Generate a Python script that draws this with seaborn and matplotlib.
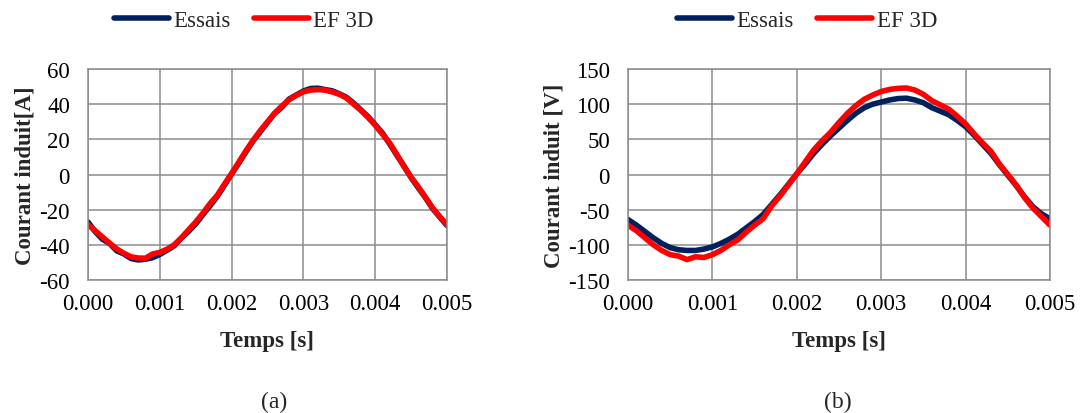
import pandas as pd
import numpy as np
import matplotlib.pyplot as plt
import seaborn as sns

# time axis (s), sampled every 0.1 ms
temps = [0.0000, 0.0001, 0.0002, 0.0003, 0.0004, 0.0005, 0.0006, 0.0007, 0.0008, 0.0009,
         0.0010, 0.0011, 0.0012, 0.0013, 0.0014, 0.0015, 0.0016, 0.0017, 0.0018, 0.0019,
         0.0020, 0.0021, 0.0022, 0.0023, 0.0024, 0.0025, 0.0026, 0.0027, 0.0028, 0.0029,
         0.0030, 0.0031, 0.0032, 0.0033, 0.0034, 0.0035, 0.0036, 0.0037, 0.0038, 0.0039,
         0.0040, 0.0041, 0.0042, 0.0043, 0.0044, 0.0045, 0.0046, 0.0047, 0.0048, 0.0049,
         0.0050]

# (a) induced current [A]
essais_a = [-27.0, -32.5, -36.8, -39.2, -43.4, -45.2, -47.8, -48.6, -48.2, -47.3,
            -45.5, -43.1, -40.6, -36.2, -32.4, -28.1, -22.9, -17.8, -12.5, -6.2,
            0.3, 6.4, 12.9, 19.1, 24.3, 29.6, 34.8, 38.2, 42.9, 45.2,
            47.5, 48.9, 49.1, 48.3, 47.6, 45.9, 43.9, 40.6, 36.8, 32.9,
            28.4, 23.6, 17.5, 11.0, 4.9, -1.8, -7.6, -13.2, -19.4, -24.3,
            -29.0]
ef3d_a = [-28.5, -32.0, -35.5, -39.0, -42.3, -44.8, -46.8, -47.5, -47.6, -45.2,
          -44.3, -42.5, -40.0, -36.0, -31.5, -27.0, -22.0, -16.5, -11.8, -5.5,
          0.6, 7.0, 13.5, 19.5, 25.0, 30.0, 34.9, 39.0, 42.5, 45.0,
          47.0, 48.0, 48.3, 48.0, 47.0, 45.6, 43.5, 40.0, 36.5, 32.5,
          28.0, 23.0, 18.0, 11.5, 4.5, -1.5, -7.0, -13.0, -19.0, -24.0,
          -28.5]

# (b) induced voltage [V]
essais_b = [-64, -72, -81, -90, -98, -104, -107, -108, -108, -106,
            -103, -98, -92, -85, -76, -67, -57, -43, -29, -14,
            1, 15, 30, 43, 55, 66, 77, 87, 95, 100,
            103, 106, 108, 108.5, 106, 102, 95, 90, 85, 77,
            68, 56, 43, 30, 14, -1, -16, -32, -46, -56,
            -63]
ef3d_b = [-72, -80, -90, -100, -108, -114, -116, -121, -117, -118,
          -114, -108, -100, -93, -82, -72, -63, -45, -31, -15,
          1, 18, 35, 48, 60, 74, 87, 98, 107, 113,
          118, 121, 122.5, 123, 120, 114, 105, 99, 93, 83,
          72, 58, 45, 33, 15, 0, -15, -33, -48, -60,
          -72]

xticks = [0.000, 0.001, 0.002, 0.003, 0.004, 0.005]
xticklabels = ['0.000', '0.001', '0.002', '0.003', '0.004', '0.005']

sns.set_style('white')
plt.rcParams['font.family'] = ['Liberation Serif', 'DejaVu Serif']
plt.rcParams['axes.unicode_minus'] = False

navy = '#002060'
red = '#ff0000'
grid_col = '#8c8c8c'

fig = plt.figure(figsize=(10.81, 4.14), dpi=100)
ax_a = fig.add_axes([88 / 1081, 1 - 281 / 414, 359 / 1081, 211 / 414])
ax_b = fig.add_axes([628 / 1081, 1 - 281 / 414, 422 / 1081, 211 / 414])

panels = [
    (ax_a, essais_a, ef3d_a, (-60, 60), [-60, -40, -20, 0, 20, 40, 60], 'Courant induit[A]', 0.2255, '(a)', 0.2535),
    (ax_b, essais_b, ef3d_b, (-150, 150), [-150, -100, -50, 0, 50, 100, 150], 'Courant induit [V]', 0.7465, '(b)', 0.7752),
]

for ax, ess, ef, ylim, yticks, ylabel, leg_x, cap, cap_x in panels:
    df = pd.DataFrame({'Temps': temps, 'Essais': ess, 'EF 3D': ef})
    sns.lineplot(data=df, x='Temps', y='Essais', ax=ax, color=navy, lw=5.5, label='Essais')
    sns.lineplot(data=df, x='Temps', y='EF 3D', ax=ax, color=red, lw=4, label='EF 3D')
    ax.set_xlim(0, 0.005)
    ax.set_ylim(*ylim)
    ax.set_xticks(xticks)
    ax.set_xticklabels(xticklabels)
    ax.set_yticks(yticks)
    ax.grid(True, color=grid_col, lw=1.1)
    ax.set_axisbelow(True)
    for sp in ax.spines.values():
        sp.set_color(grid_col)
        sp.set_linewidth(1.1)
    ax.tick_params(axis='both', labelsize=16.5, length=0, colors='black')
    ax.tick_params(axis='x', pad=9)
    ax.tick_params(axis='y', pad=13)
    ax.set_xlabel('Temps [s]', fontsize=16.5, fontweight='bold', labelpad=12)
    ax.set_ylabel(ylabel, fontsize=16.5, fontweight='bold', labelpad=3)
    h, l = ax.get_legend_handles_labels()
    for hh in h:
        hh.set_linewidth(4)
    ax.legend(h, l, loc='center', bbox_to_anchor=(leg_x, 1 - 21.7 / 414),
              bbox_transform=fig.transFigure, ncol=2, frameon=False, fontsize=16.5,
              handlelength=2.4, handletextpad=0.2, columnspacing=1.0)
    fig.text(cap_x, 1 - 402 / 414, cap, ha='center', va='center', fontsize=17)

fig.savefig('out.png', dpi=100)
